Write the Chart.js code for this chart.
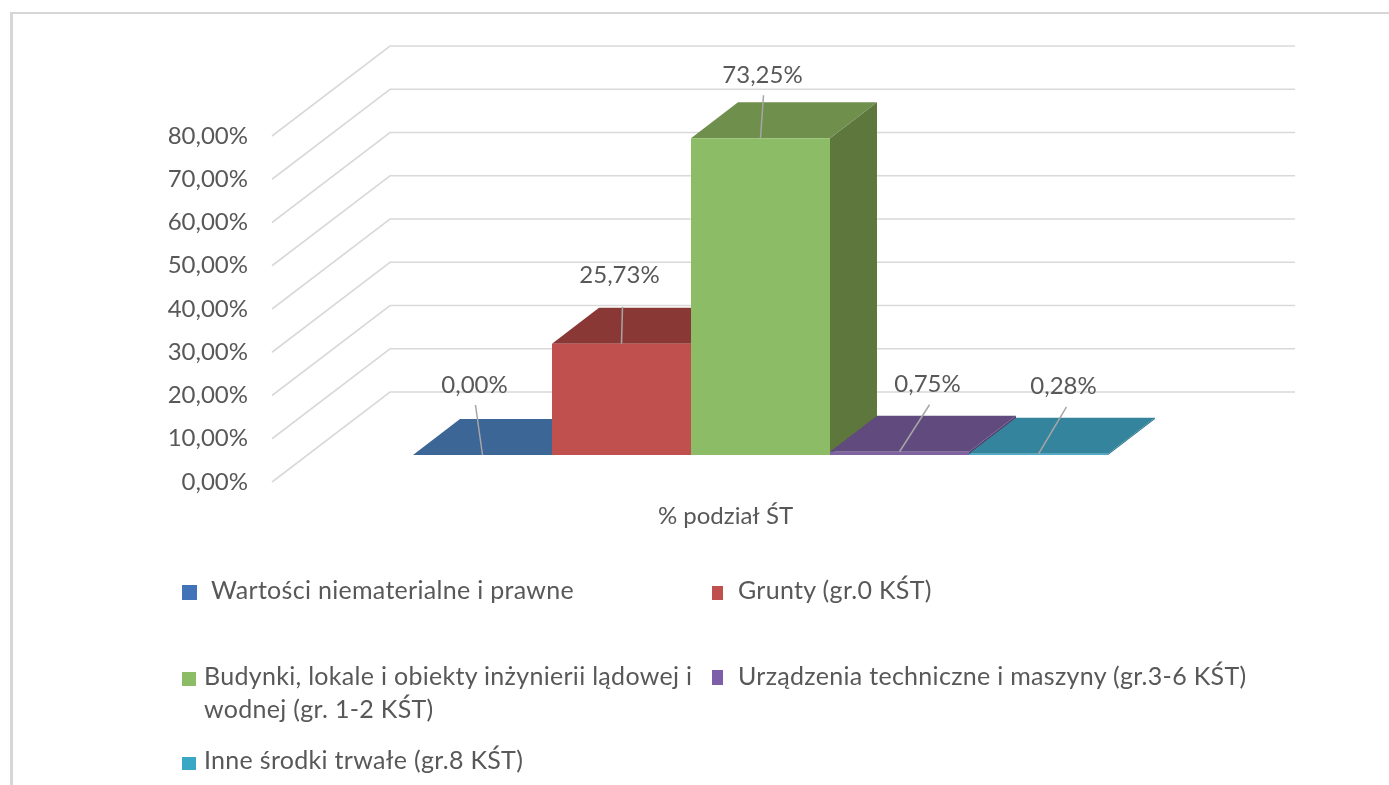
<!DOCTYPE html>
<html lang="pl">
<head>
<meta charset="utf-8">
<style>
html,body{margin:0;padding:0;background:#fff;width:1389px;height:785px;overflow:hidden}
#stage{position:absolute;left:0;top:0;width:1389px;height:785px;filter:blur(.7px)}
#frame{position:absolute;left:10px;top:12px;width:1379px;height:773px;border-top:2px solid #d6d6d6;border-left:3px solid #d6d6d6;box-sizing:border-box}
canvas{position:absolute;left:0;top:0}
.sw{position:absolute}
.lt{position:absolute;font:25px Lato,sans-serif;color:#585858;line-height:33px;letter-spacing:.3px}
</style>
<script src="https://cdn.jsdelivr.net/npm/chart.js@4/dist/chart.umd.min.js"></script>
</head>
<body>
<div id="stage">
<div id="frame"></div>
<canvas id="c" width="1389" height="785"></canvas>
<div id="legend"></div>
</div>
<script>
const categories = ['% podział ŚT'];
const seriesNames = [
  'Wartości niematerialne i prawne',
  'Grunty (gr.0 KŚT)',
  'Budynki, lokale i obiekty inżynierii lądowej i wodnej (gr. 1-2 KŚT)',
  'Urządzenia techniczne i maszyny (gr.3-6 KŚT)',
  'Inne środki trwałe (gr.8 KŚT)'
];
const seriesValues = [0.00, 25.73, 73.25, 0.75, 0.28];
const valueLabels = ['0,00%', '25,73%', '73,25%', '0,75%', '0,28%'];
const yTickLabels = ['0,00%','10,00%','20,00%','30,00%','40,00%','50,00%','60,00%','70,00%','80,00%'];

const frontColors = ['#4f81bd', '#c0504d', '#8cbc66', '#8064a2', '#4bacc6'];
const topColors   = ['#3c6696', '#8a3836', '#6f8f4d', '#604a7e', '#33849c'];
const sideColors  = ['#345a85', '#7a312f', '#5e773c', '#54406f', '#2c7389'];
const legendColors = ['#4272b8', '#c0504d', '#8cbc66', '#7c5fa8', '#38a8c4'];

const FONT = 'Lato, sans-serif';
const TEXT = '#585858';
const barDepth = {x: 47, y: -36};
const wall = {frontX: 272, backX: 390, endX: 1295, frontDy: 27, backDy: -63};
/* leader end and label centre, relative to the top-centre of the bar's front face */
const leaderOffsets = [[-7,-50],[1,-37],[3,-43],[30,-47],[28,-47]];
const labelOffsets  = [[-8,-70],[-2,-68],[2,-63],[28,-67],[25,-68]];

const solid3d = {
  id: 'solid3d',
  beforeDatasetsDraw(chart) {
    const {ctx, scales: {y}} = chart;
    ctx.save();
    ctx.strokeStyle = '#d9d9d9';
    ctx.lineWidth = 1.6;
    y.ticks.forEach(t => {
      const p = y.getPixelForValue(t.value);
      ctx.beginPath();
      ctx.moveTo(wall.frontX, p + wall.frontDy);
      ctx.lineTo(wall.backX, p + wall.backDy);
      ctx.lineTo(wall.endX, p + wall.backDy);
      ctx.stroke();
    });
    chart.data.datasets.forEach((ds, i) => {
      const b = chart.getDatasetMeta(i).data[0];
      const l = b.x - b.width / 2, r = b.x + b.width / 2, t = b.y, base = b.base;
      ctx.fillStyle = sideColors[i];
      ctx.beginPath();
      ctx.moveTo(r, t); ctx.lineTo(r + barDepth.x, t + barDepth.y);
      ctx.lineTo(r + barDepth.x, base + barDepth.y); ctx.lineTo(r, base);
      ctx.closePath(); ctx.fill();
      ctx.fillStyle = topColors[i];
      ctx.beginPath();
      ctx.moveTo(l, t); ctx.lineTo(l + barDepth.x, t + barDepth.y);
      ctx.lineTo(r + barDepth.x, t + barDepth.y); ctx.lineTo(r, t);
      ctx.closePath(); ctx.fill();
    });
    ctx.restore();
  },
  afterDatasetsDraw(chart) {
    const {ctx} = chart;
    ctx.save();
    ctx.font = '24px ' + FONT;
    ctx.textAlign = 'center';
    ctx.textBaseline = 'middle';
    chart.data.datasets.forEach((ds, i) => {
      const b = chart.getDatasetMeta(i).data[0];
      ctx.strokeStyle = '#a6a6a6';
      ctx.lineWidth = 1.5;
      ctx.beginPath();
      ctx.moveTo(b.x, b.y);
      ctx.lineTo(b.x + leaderOffsets[i][0], b.y + leaderOffsets[i][1]);
      ctx.stroke();
      ctx.fillStyle = TEXT;
      ctx.fillText(valueLabels[i], b.x + labelOffsets[i][0], b.y + labelOffsets[i][1]);
    });
    ctx.restore();
  }
};

new Chart(document.getElementById('c'), {
  type: 'bar',
  data: {
    labels: categories,
    datasets: seriesNames.map((name, i) => ({
      label: name,
      data: [seriesValues[i]],
      backgroundColor: frontColors[i],
      borderWidth: 0,
      barPercentage: 1,
      categoryPercentage: 0.7646
    }))
  },
  options: {
    responsive: false,
    animation: false,
    layout: {padding: {top: 109, right: 174, bottom: 0, left: 0}},
    plugins: {legend: {display: false}, tooltip: {enabled: false}},
    scales: {
      x: {
        grid: {display: false},
        border: {display: false},
        afterFit: s => { s.height = 330; },
        ticks: {color: TEXT, font: {family: FONT, size: 24}, padding: 39, labelOffset: -35, maxRotation: 0, autoSkip: false}
      },
      y: {
        min: 0, max: 80,
        grid: {display: false, drawTicks: false},
        border: {display: false},
        afterFit: s => { s.width = 306; },
        ticks: {
          stepSize: 10,
          color: TEXT,
          font: {family: FONT, size: 24},
          padding: 58,
          labelOffset: 27,
          callback: (v) => yTickLabels[Math.round(v / 10)]
        }
      }
    }
  },
  plugins: [solid3d]
});

/* legend: swatch box [x,y,w,h], then text x, y, width */
const legendLayout = [
  {sw:[182,585,15,15], tx:211, ty:573, w:500},
  {sw:[712,586,11,14], tx:738, ty:573, w:600},
  {sw:[182,672,14,14], tx:204, ty:659, w:495},
  {sw:[712,670,11,15], tx:738, ty:659, w:640},
  {sw:[182,757,14,13], tx:204, ty:743, w:500}
];
const host = document.getElementById('legend');
seriesNames.forEach((name, i) => {
  const L = legendLayout[i];
  const s = document.createElement('div');
  s.className = 'sw';
  s.style.cssText = `left:${L.sw[0]}px;top:${L.sw[1]}px;width:${L.sw[2]}px;height:${L.sw[3]}px;background:${legendColors[i]}`;
  const t = document.createElement('div');
  t.className = 'lt';
  t.style.cssText = `left:${L.tx}px;top:${L.ty}px;width:${L.w}px`;
  t.textContent = name;
  host.append(s, t);
});
</script>
</body>
</html>
